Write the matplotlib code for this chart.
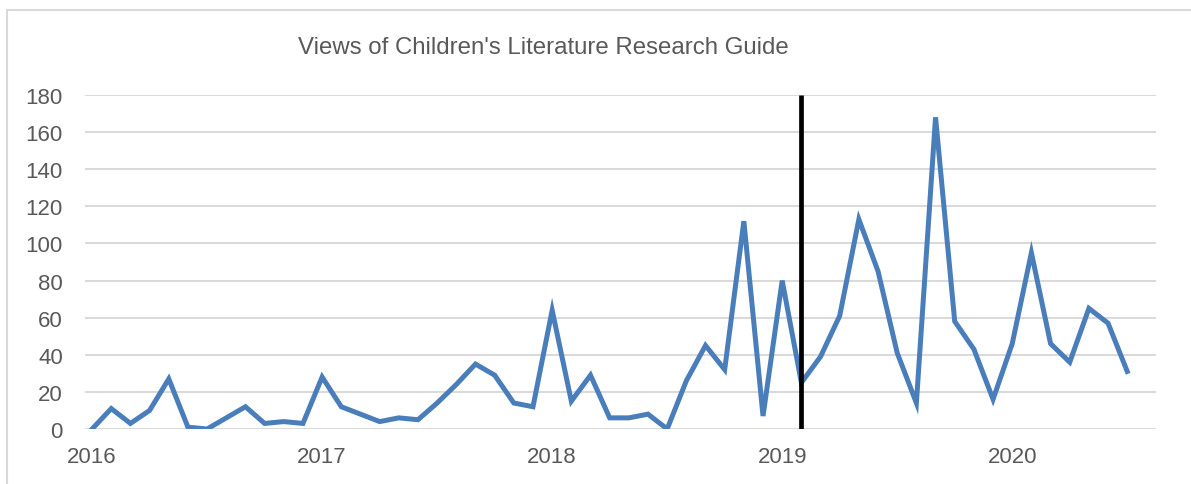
import matplotlib
matplotlib.use('Agg')
import matplotlib.pyplot as plt
from matplotlib.patches import Rectangle

# monthly views, Jan 2016 .. Jul 2020
views = [0, 11, 3, 10, 27, 1, 0, 6, 12, 3,
         4, 3, 28, 12, 8, 4, 6, 5, 14, 24,
         35, 29, 14, 12, 64, 15, 29, 6, 6, 8,
         0, 26, 45, 32, 112, 7, 80, 25, 39, 61,
         113, 85, 41, 14, 168, 58, 43, 16, 46, 95,
         46, 36, 65, 57, 31]
year_labels = ['2016', '2017', '2018', '2019', '2020']
year_start_idx = [0, 12, 24, 36, 48]
marker_idx = 37  # Feb 2019
y_ticks = [0, 20, 40, 60, 80, 100, 120, 140, 160, 180]

plt.rcParams['font.family'] = ['Liberation Sans', 'DejaVu Sans']
txt_col = '#595959'
W, H = 1191, 485

fig = plt.figure(figsize=(W / 100, H / 100), dpi=100)
fig.patch.set_facecolor('white')

# chart area border
fig.patches.append(Rectangle((7 / W, -0.05), 1.1, (H - 11) / H + 0.05,
                             transform=fig.transFigure, fill=False,
                             edgecolor='#d9d9d9', lw=1.5))

ax = fig.add_axes([85 / W, (H - 430) / H, (1156 - 85) / W, (430 - 96) / H])

x = list(range(len(views)))
ax.plot(x, views, color='#4a7ebb', lw=3.6, solid_joinstyle='miter', zorder=3)
ax.vlines(marker_idx, 0, 180, color='black', lw=3.4, zorder=4)

ax.set_xlim(-0.37, 55.5)
ax.set_ylim(0, 180)
ax.set_yticks(y_ticks)
ax.set_xticks(year_start_idx)
ax.set_xticklabels(year_labels)
ax.grid(axis='y', color='#d9d9d9', lw=1.4)
ax.set_axisbelow(True)
for s in ax.spines.values():
    s.set_visible(False)
ax.tick_params(axis='both', length=0, labelsize=16, colors=txt_col)
ax.tick_params(axis='y', pad=16)
ax.tick_params(axis='x', pad=12)

fig.text(543 / W, (H - 48) / H, "Views of Children's Literature Research Guide",
         ha='center', va='center', fontsize=17.3, color=txt_col)

fig.savefig('out.png', dpi=100)
